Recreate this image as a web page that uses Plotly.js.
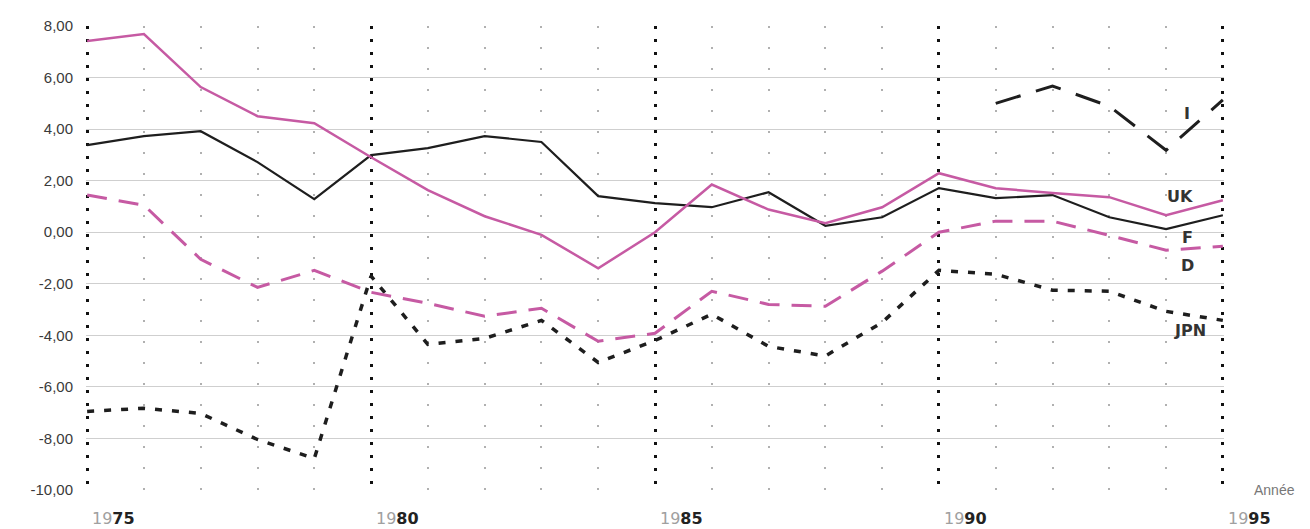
<!DOCTYPE html>
<html>
<head>
<meta charset="utf-8">
<script src="https://cdn.plot.ly/plotly-3.0.1.min.js"></script>
<style>html,body{margin:0;padding:0;background:#fff;}#chart{width:1310px;height:529px;}</style>
</head>
<body>
<div id="chart"></div>
<script>
// Data
const years = [1975,1976,1977,1978,1979,1980,1981,1982,1983,1984,1985,1986,1987,1988,1989,1990,1991,1992,1993,1994,1995];
const UK  = [7.42,7.69,5.63,4.50,4.23,2.91,1.63,0.62,-0.10,-1.40,0.00,1.85,0.88,0.35,0.97,2.29,1.71,1.52,1.36,0.66,1.24];
const F   = [3.38,3.73,3.92,2.72,1.28,2.99,3.26,3.73,3.50,1.40,1.13,0.97,1.55,0.25,0.58,1.71,1.32,1.44,0.58,0.12,0.66];
const D   = [1.44,1.05,-1.05,-2.14,-1.48,-2.33,-2.76,-3.26,-2.95,-4.23,-3.92,-2.29,-2.80,-2.87,-1.51,0.00,0.43,0.43,-0.12,-0.70,-0.54];
const JPN = [-6.95,-6.83,-7.03,-8.04,-8.78,-1.70,-4.35,-4.12,-3.42,-5.05,-4.20,-3.18,-4.43,-4.80,-3.50,-1.48,-1.63,-2.25,-2.29,-3.07,-3.42];
const I   = [null,null,null,null,null,null,null,null,null,null,null,null,null,null,null,null,5.00,5.67,4.89,3.18,5.13];

const yTickVals = [8,6,4,2,0,-2,-4,-6,-8,-10];
const yTickText = ["8,00","6,00","4,00","2,00","0,00","-2,00","-4,00","-6,00","-8,00","-10,00"];
const xLabelYears = [1975,1980,1985,1990,1995];
const seriesLabels = [
  {name:"I",   x:1994.37, y:4.62},
  {name:"UK",  x:1994.24, y:1.40},
  {name:"F",   x:1994.37, y:-0.19},
  {name:"D",   x:1994.37, y:-1.28},
  {name:"JPN", x:1994.42, y:-3.80}
];

const pink = "#c65aa3";
const dark = "#1e1e1e";
const sans = "Liberation Sans, Arial, sans-serif";
const wide = "DejaVu Sans, Liberation Sans, sans-serif";

const traces = [
  {x:years, y:JPN, mode:"lines", line:{color:dark, width:3.5, dash:"7px,10px"}, hoverinfo:"skip"},
  {x:years, y:D,   mode:"lines", line:{color:pink, width:3, dash:"20px,12px"}, hoverinfo:"skip"},
  {x:years, y:F,   mode:"lines", line:{color:dark, width:2.2}, hoverinfo:"skip"},
  {x:years, y:UK,  mode:"lines", line:{color:pink, width:2.5}, hoverinfo:"skip"},
  {x:years, y:I,   mode:"lines", line:{color:dark, width:3, dash:"26px,16px"}, connectgaps:false, hoverinfo:"skip"}
];

const annotations = [];
xLabelYears.forEach(yr => {
  const s = String(yr);
  annotations.push({
    x: yr, xref:"x", y:0, yref:"paper",
    xanchor:"left", yanchor:"middle", xshift:4, yshift:-28, borderpad:0,
    showarrow:false,
    text:"<span style='color:#a0a0a0;font-weight:normal'>" + s.slice(0,2) + "</span><b>" + s.slice(2) + "</b>",
    font:{family:wide, size:16, color:"#222"}
  });
});
seriesLabels.forEach(l => {
  annotations.push({
    x:l.x, xref:"x", y:l.y, yref:"y", showarrow:false,
    text:"<b>" + l.name + "</b>",
    font:{family:wide, size:16, color:"#333"}
  });
});
annotations.push({
  x:1.0255, xref:"paper", xanchor:"left", y:-10, yref:"y", showarrow:false, borderpad:0,
  text:"Année", font:{family:sans, size:14, color:"#777"}
});

const layout = {
  width:1310, height:529,
  margin:{l:86, r:86, t:26, b:39},
  paper_bgcolor:"#fff", plot_bgcolor:"#fff",
  showlegend:false,
  xaxis:{
    range:[1974.98,1995.02], tick0:1975, dtick:5, showticklabels:false, ticks:"",
    showgrid:true, gridcolor:"#111", gridwidth:3, griddash:"3px,10px",
    minor:{dtick:1, tick0:1975, showgrid:true, gridcolor:"#b0b0b0", gridwidth:2, griddash:"2px,19px"},
    zeroline:false, showline:false, fixedrange:true
  },
  yaxis:{
    range:[-10,8], tickvals:yTickVals, ticktext:yTickText, ticks:"",
    showgrid:true, gridcolor:"#cfcfcf", gridwidth:1,
    zeroline:false, showline:false, ticklabelstandoff:12,
    tickfont:{family:sans, size:15, color:"#3a3a3a"},
    fixedrange:true
  },
  annotations:annotations
};

Plotly.newPlot("chart", traces, layout, {displayModeBar:false, staticPlot:true});
</script>
</body>
</html>
